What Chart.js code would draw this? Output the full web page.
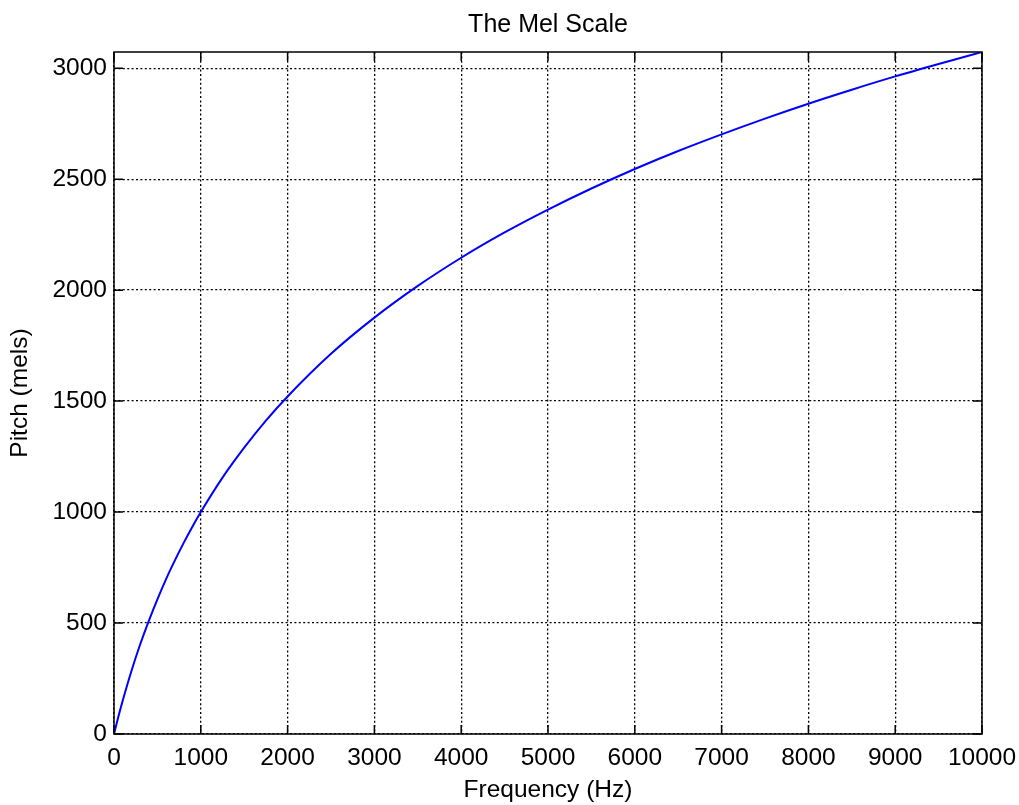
<!DOCTYPE html>
<html>
<head>
<meta charset="utf-8">
<script src="https://cdn.jsdelivr.net/npm/chart.js@4.4.1/dist/chart.umd.min.js"></script>
<style>
  html, body { margin: 0; padding: 0; background: #fff; }
  canvas { display: block; }
</style>
</head>
<body>
<canvas id="mel" width="1019" height="805"></canvas>
<script>
// Frequency (Hz) and pitch (mels)
const freqHz = [0, 50, 100, 200, 300, 400, 500, 600, 700, 800, 900, 1000, 1250, 1500, 1750, 2000,
    2500, 3000, 3500, 4000, 4500, 5000, 5500, 6000, 6500, 7000, 7500, 8000, 8500, 9000, 9500, 10000]
const pitchMels = [0, 78, 150, 283, 402, 509, 607, 698, 781, 859, 932, 1000, 1155, 1290, 1412, 1521,
    1713, 1876, 2019, 2146, 2260, 2363, 2458, 2546, 2627, 2702, 2773, 2840, 2903, 2963, 3019, 3073]
const xTicks = [0, 1000, 2000, 3000, 4000, 5000, 6000, 7000, 8000, 9000, 10000]
const yTicks = [0, 500, 1000, 1500, 2000, 2500, 3000]
const chartTitle = 'The Mel Scale'

const font = "'Liberation Sans', Arial, Helvetica, sans-serif"

// box round the axes with inward tick marks on all four sides, title centred over the axes
const boxPlugin = {
    id: 'box',
    afterDatasetsDraw(chart) {
        const {ctx, chartArea: a, scales} = chart
        ctx.save()
        ctx.strokeStyle = '#000'
        ctx.lineWidth = 1.5
        ctx.beginPath()
        xTicks.forEach(function(v){
            const px = scales.x.getPixelForValue(v)
            ctx.moveTo(px, a.bottom); ctx.lineTo(px, a.bottom - 9)
            ctx.moveTo(px, a.top); ctx.lineTo(px, a.top + 9)
        })
        yTicks.forEach(function(v){
            const py = scales.y.getPixelForValue(v)
            ctx.moveTo(a.left, py); ctx.lineTo(a.left + 9, py)
            ctx.moveTo(a.right, py); ctx.lineTo(a.right - 9, py)
        })
        ctx.stroke()
        ctx.strokeRect(a.left, a.top, a.right - a.left, a.bottom - a.top)

        ctx.fillStyle = '#000'
        ctx.font = "25px " + font
        ctx.textAlign = 'center'
        ctx.textBaseline = 'alphabetic'
        ctx.fillText(chartTitle, (a.left + a.right) / 2, 32)
        ctx.restore()
    }
}

const ctx = document.getElementById('mel').getContext('2d')
const melChart = new Chart(ctx, {
    type: 'line',
    data: {
        datasets: [{
            label: 'Mel',
            data: freqHz.map((f, i) => ({x: f, y: pitchMels[i]})),
            borderColor: '#0000ff',
            borderWidth: 2,
            pointRadius: 0,
            fill: false,
            cubicInterpolationMode: 'monotone'
        }]
    },
    options: {
        responsive: false,
        animation: false,
        layout: { padding: { left: 0, right: 37, top: 52, bottom: 0 } },
        plugins: {
            legend: { display: false },
            tooltip: { enabled: false },
            title: { display: false }
        },
        scales: {
            x: {
                type: 'linear',
                min: 0,
                max: 10000,
                afterBuildTicks: function(scale){ scale.ticks = xTicks.map(v => ({value: v})) },
                afterFit: function(scale){
                    scale.height = 71
                    scale.paddingLeft = 0
                    scale.paddingRight = 0
                },
                ticks: {
                    color: '#000',
                    padding: 10,
                    maxRotation: 0,
                    font: { family: font, size: 24.5 },
                    callback: v => String(v)
                },
                grid: { color: '#000', lineWidth: 1.3, drawTicks: false },
                border: { display: false, dash: [2, 2.4] },
                title: {
                    display: true,
                    text: 'Frequency (Hz)',
                    color: '#000',
                    font: { family: font, size: 24.5 },
                    padding: { top: 0, bottom: 0 }
                }
            },
            y: {
                type: 'linear',
                min: 0,
                max: 3073,
                afterBuildTicks: function(scale){ scale.ticks = yTicks.map(v => ({value: v})) },
                afterFit: function(scale){
                    scale.width = 114
                    scale.paddingTop = 0
                    scale.paddingBottom = 0
                },
                ticks: {
                    color: '#000',
                    padding: 7,
                    font: { family: font, size: 24.5 },
                    callback: v => String(v)
                },
                grid: { color: '#000', lineWidth: 1.3, drawTicks: false },
                border: { display: false, dash: [2, 2.4] },
                title: {
                    display: true,
                    text: 'Pitch (mels)',
                    color: '#000',
                    font: { family: font, size: 24.5 },
                    padding: { top: 6, bottom: 0 }
                }
            }
        }
    },
    plugins: [boxPlugin]
})
</script>
</body>
</html>
